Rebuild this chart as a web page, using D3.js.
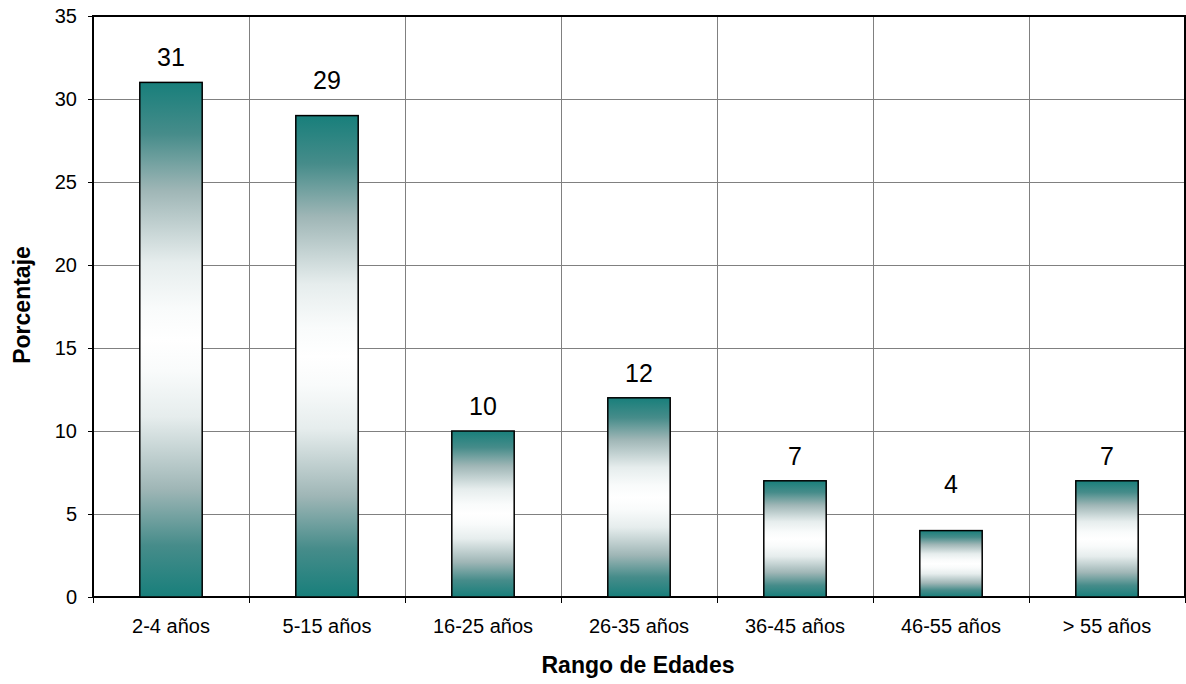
<!DOCTYPE html>
<html>
<head>
<meta charset="utf-8">
<script src="https://cdn.jsdelivr.net/npm/d3@7/dist/d3.min.js"></script>
<style>
  html, body { margin: 0; padding: 0; background: #fff; }
  svg { display: block; font-family: "Liberation Sans", Arial, sans-serif; }
</style>
</head>
<body>
<svg id="chart" width="1186" height="684"></svg>
<script>
// Distribución por rango de edades (porcentaje)
const categories = ["2-4 años", "5-15 años", "16-25 años", "26-35 años", "36-45 años", "46-55 años", "> 55 años"];
const values = [31, 29, 10, 12, 7, 4, 7];
const yTicks = [0, 5, 10, 15, 20, 25, 30, 35];

const W = 1186, H = 684;
const margin = { top: 16, right: 1, bottom: 87, left: 93 };
const iw = W - margin.left - margin.right;
const ih = H - margin.top - margin.bottom;

const svg = d3.select("#chart");

// vertical gradient: teal at both ends, fading to white in the middle
const halfStops = [
  [0.00, "#187f7b"],
  [0.10, "#468c8a"],
  [0.21, "#9fb6b6"],
  [0.35, "#e6eded"],
  [0.44, "#f9fbfb"],
  [0.50, "#ffffff"]
];
const stops = halfStops.concat(halfStops.slice(0, -1).reverse().map(([o, c]) => [1 - o, c]));
const defs = svg.append("defs");
defs.append("linearGradient")
  .attr("id", "barGrad")
  .attr("x1", 0).attr("y1", 0).attr("x2", 0).attr("y2", 1)
  .selectAll("stop")
  .data(stops)
  .join("stop")
  .attr("offset", d => d[0])
  .attr("stop-color", d => d[1]);

const g = svg.append("g").attr("transform", `translate(${margin.left},${margin.top})`);

const x = d3.scaleBand().domain(categories).range([0, iw]).paddingInner(0).paddingOuter(0);
const y = d3.scaleLinear().domain([0, 35]).range([ih, 0]);

// horizontal grid lines
g.append("g")
  .selectAll("line")
  .data(yTicks.filter(t => t > 0 && t < 35))
  .join("line")
  .attr("x1", 0).attr("x2", iw)
  .attr("y1", d => y(d)).attr("y2", d => y(d))
  .attr("stroke", "#808080").attr("stroke-width", 1)
  .attr("shape-rendering", "crispEdges");

// vertical grid lines at category boundaries
g.append("g")
  .selectAll("line")
  .data(categories.slice(1))
  .join("line")
  .attr("x1", d => x(d)).attr("x2", d => x(d))
  .attr("y1", 0).attr("y2", ih)
  .attr("stroke", "#808080").attr("stroke-width", 1)
  .attr("shape-rendering", "crispEdges");

// plot frame
g.append("rect")
  .attr("x", 0).attr("y", 0).attr("width", iw).attr("height", ih)
  .attr("fill", "none").attr("stroke", "#000").attr("stroke-width", 1.5)
  .attr("shape-rendering", "crispEdges");

// bars
const barW = x.bandwidth() * 0.4;
g.append("g")
  .selectAll("rect")
  .data(values)
  .join("rect")
  .attr("x", (d, i) => x(categories[i]) + (x.bandwidth() - barW) / 2)
  .attr("y", d => y(d))
  .attr("width", barW)
  .attr("height", d => ih - y(d))
  .attr("fill", "url(#barGrad)")
  .attr("stroke", "#000").attr("stroke-width", 1.5);

// value labels sit above each bar; a few were nudged higher by hand
const labelGap = i => (i === 1 ? 27 : i === 5 ? 38 : 16);
g.append("g")
  .selectAll("text")
  .data(values)
  .join("text")
  .attr("x", (d, i) => x(categories[i]) + x.bandwidth() / 2)
  .attr("y", (d, i) => y(d) - labelGap(i))
  .attr("text-anchor", "middle")
  .attr("font-size", 25)
  .attr("fill", "#000")
  .text(d => d);

// y axis
const yAxis = g.append("g")
  .call(d3.axisLeft(y).tickValues(yTicks).tickSize(5).tickPadding(11).tickSizeOuter(0));
yAxis.select(".domain").remove();
yAxis.selectAll(".tick line").attr("stroke", "#000");
yAxis.selectAll(".tick text")
  .attr("font-size", 20).attr("fill", "#000")
  .attr("font-family", "'Liberation Sans', Arial, sans-serif");

// x axis: ticks at category boundaries
const boundaries = d3.range(categories.length + 1).map(i => i * x.step());
g.append("g")
  .attr("transform", `translate(0,${ih})`)
  .selectAll("line")
  .data(boundaries)
  .join("line")
  .attr("x1", d => d).attr("x2", d => d)
  .attr("y1", 0).attr("y2", 6)
  .attr("stroke", "#000").attr("shape-rendering", "crispEdges");

g.append("g")
  .selectAll("text")
  .data(categories)
  .join("text")
  .attr("x", d => x(d) + x.bandwidth() / 2)
  .attr("y", ih + 36)
  .attr("text-anchor", "middle")
  .attr("font-size", 20)
  .attr("fill", "#000")
  .text(d => d);

// axis titles
svg.append("text")
  .attr("x", margin.left + iw / 2 - 1)
  .attr("y", 673)
  .attr("text-anchor", "middle")
  .attr("font-size", 23)
  .attr("font-weight", "bold")
  .attr("fill", "#000")
  .text("Rango de Edades");

svg.append("text")
  .attr("transform", "translate(30,305) rotate(-90)")
  .attr("text-anchor", "middle")
  .attr("font-size", 23)
  .attr("font-weight", "bold")
  .attr("fill", "#000")
  .text("Porcentaje");
</script>
</body>
</html>
